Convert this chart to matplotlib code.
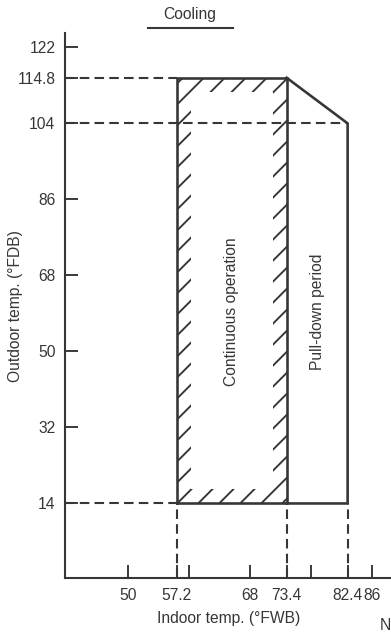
import numpy as np
import matplotlib
matplotlib.use("Agg")
import matplotlib.pyplot as plt
from matplotlib.path import Path
from matplotlib.patches import PathPatch
from matplotlib.lines import Line2D
from matplotlib.collections import LineCollection

# ------------------------------------------------------------
# data (deg F)
# ------------------------------------------------------------
y_ticks = [14, 32, 50, 68, 86, 104, 114.8, 122]
y_tick_labels = ["14", "32", "50", "68", "86", "104", "114.8", "122"]

x_ticks = [50, 57.2, 59, 68, 73.4, 77, 82.4, 86]
x_tick_labels = ["50", "57.2", "", "68", "73.4", "", "82.4", "86"]

# continuous operation box
cont_x = [57.2, 73.4]
cont_y = [14, 114.8]

# pull-down period outline (continues from the box's right edge)
pull_x = [73.4, 82.4, 82.4, 73.4]
pull_y = [114.8, 104, 14, 14]

# ------------------------------------------------------------
# style
# ------------------------------------------------------------
DPI = 125
INK = "#363636"
plt.rcParams["font.family"] = ["Liberation Sans", "DejaVu Sans"]
plt.rcParams["font.size"] = 9
plt.rcParams["lines.scale_dashes"] = False
DASH = (0, (5.5, 3.0))
HATCH_STEP = 21      # px between hatch strokes
BAND_PX = 14         # px width of hatched band

fig = plt.figure(figsize=(391 / DPI, 632 / DPI), dpi=DPI)
ax = fig.add_axes([65 / 391, 54 / 632, 1 - 65 / 391, 545 / 632])

ax.set_xlim(40.7, 88.8)
ax.set_ylim(-3.65, 125.4)

for s in ["top", "right"]:
    ax.spines[s].set_visible(False)
for s in ["left", "bottom"]:
    ax.spines[s].set_linewidth(1.2)
    ax.spines[s].set_color(INK)

ax.set_yticks(y_ticks)
ax.set_yticklabels(y_tick_labels)
ax.set_xticks(x_ticks)
ax.set_xticklabels(x_tick_labels)
ax.tick_params(axis="y", direction="in", length=7.5, width=1.1, color=INK,
               labelcolor=INK, pad=5.5)
ax.tick_params(axis="x", direction="in", length=7.5, width=1.1, color=INK,
               labelcolor=INK, pad=6)

# ------------------------------------------------------------
# dashed guide lines
# ------------------------------------------------------------
x0 = ax.get_xlim()[0]
y0 = ax.get_ylim()[0]
ax.plot([x0, cont_x[0]], [cont_y[1], cont_y[1]], color=INK, lw=1.2, ls=DASH)
ax.plot([x0, cont_x[0]], [cont_y[0], cont_y[0]], color=INK, lw=1.2, ls=DASH)
ax.plot([x0, pull_x[1]], [pull_y[1], pull_y[1]], color=INK, lw=1.2, ls=DASH)
for xv in [cont_x[0], cont_x[1], pull_x[1]]:
    ax.plot([xv, xv], [y0, cont_y[0]], color=INK, lw=1.2, ls=DASH)

# ------------------------------------------------------------
# hatched band along the inside of the continuous-operation box
# ------------------------------------------------------------
trans = ax.transData
inv = trans.inverted()
xa, xb = cont_x
ya, yb = cont_y
(px0, py0) = trans.transform((xa, ya))
(px1, py1) = trans.transform((xb, yb))

band_px = [(px0, py0), (px1, py0), (px1, py1), (px0, py1), (px0, py0),
           (px0 + BAND_PX, py0 + BAND_PX), (px0 + BAND_PX, py1 - BAND_PX),
           (px1 - BAND_PX, py1 - BAND_PX), (px1 - BAND_PX, py0 + BAND_PX),
           (px0 + BAND_PX, py0 + BAND_PX)]
codes = [Path.MOVETO, Path.LINETO, Path.LINETO, Path.LINETO, Path.CLOSEPOLY] * 2
band = PathPatch(Path(inv.transform(band_px), codes), facecolor="none",
                 edgecolor="none", lw=0)
ax.add_patch(band)

segs = []
for c in np.arange(px0 - py1 + 6, px1 - py0 + HATCH_STEP, HATCH_STEP):
    seg = inv.transform([(py0 + c, py0), (py1 + c, py1)])
    segs.append(seg)
hatch = LineCollection(segs, colors=INK, linewidths=1.1)
ax.add_collection(hatch)
hatch.set_clip_path(band)

ax.plot([xa, xb, xb, xa, xa], [ya, ya, yb, yb, ya], color=INK, lw=1.5,
        solid_joinstyle="miter")
ax.plot(pull_x, pull_y, color=INK, lw=1.5, solid_joinstyle="miter")

# region labels
ax.text(np.mean(cont_x), 59.4, "Continuous operation", rotation=90,
        ha="center", va="center", color=INK)
ax.text(np.mean([pull_x[0], pull_x[1]]), 59.4, "Pull-down period", rotation=90,
        ha="center", va="center", color=INK)

# axis labels
ax.set_xlabel("Indoor temp. (°FWB)", color=INK)
ax.xaxis.set_label_coords((229 - 65) / 326, -(618 - 578) / 545)
ax.xaxis.label.set_va("center")
ax.set_ylabel("Outdoor temp. (°FDB)", color=INK)
ax.yaxis.set_label_coords(-(65 - 16) / 326, (578 - 306) / 545)
ax.yaxis.label.set_va("center")

# header
fig.text(190 / 391, 1 - 15 / 632, "Cooling", ha="center", va="center", color=INK)
fig.add_artist(Line2D([148 / 391, 233 / 391], [1 - 28 / 632, 1 - 28 / 632],
                      transform=fig.transFigure, color=INK, lw=1.2))

# cut-off text at the lower right
fig.text(385 / 391, 1 - 626 / 632, "N", ha="center", va="center", color=INK)

fig.savefig("out.png", dpi=DPI)
